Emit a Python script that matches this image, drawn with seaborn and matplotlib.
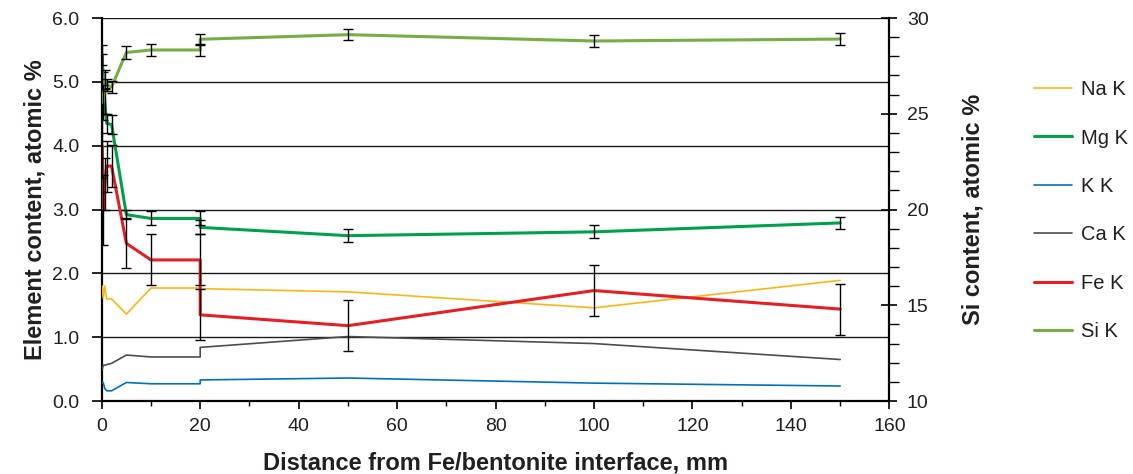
import numpy as np
import pandas as pd
import matplotlib
matplotlib.use("Agg")
import matplotlib.pyplot as plt
from matplotlib.ticker import MultipleLocator, FormatStrFormatter
import seaborn as sns

# ---- data ----
distance = [0.1, 0.3, 0.6, 1.0, 2.0, 5, 10, 20, 20, 50, 100, 150]
na_k = [1.80, 1.61, 1.80, 1.60, 1.60, 1.36, 1.77, 1.77, 1.76, 1.71, 1.46, 1.89]
mg_k = [5.42, 5.00, 4.70, 4.35, 4.33, 2.92, 2.86, 2.86, 2.72, 2.59, 2.65, 2.79]
k_k = [0.29, 0.29, 0.20, 0.16, 0.16, 0.29, 0.27, 0.27, 0.33, 0.36, 0.28, 0.235]
ca_k = [0.49, 0.56, 0.56, 0.57, 0.59, 0.72, 0.69, 0.69, 0.84, 1.01, 0.90, 0.65]
fe_k = [3.99, 2.99, 3.40, 3.68, 3.68, 2.47, 2.21, 2.21, 1.35, 1.18, 1.73, 1.44]
si_k = [27.2, 25.6, 26.8, 26.5, 26.4, 28.2, 28.33, 28.33, 28.89, 29.13, 28.8, 28.9]

mg_err = [0.15, 0.15, 0.20, 0.15, 0.15, 0.07, 0.11, 0.11, 0.11, 0.10, 0.10, 0.10]
fe_err = [0.50, 0.55, 0.40, 0.40, 0.33, 0.39, 0.40, 0.40, 0.40, 0.40, 0.40, 0.40]
si_err = [0.90, 0.90, 0.50, 0.30, 0.30, 0.33, 0.32, 0.32, 0.30, 0.30, 0.30, 0.31]

x_ticks = [0, 20, 40, 60, 80, 100, 120, 140, 160]
left_ticks = [0.0, 1.0, 2.0, 3.0, 4.0, 5.0, 6.0]
right_ticks = [10, 15, 20, 25, 30]

series_names = ["Na K", "Mg K", "K K", "Ca K", "Fe K", "Si K"]
colors = {"Na K": "#FDB515", "Mg K": "#00A14B", "K K": "#0072BC",
          "Ca K": "#4D4D4D", "Fe K": "#E61E25", "Si K": "#77AD45"}
widths = {"Na K": 1.2, "Mg K": 2.2, "K K": 1.2, "Ca K": 1.2, "Fe K": 2.2, "Si K": 2.2}

# ---- style ----
sns.set_theme(style="white")
plt.rcParams["font.family"] = ["Liberation Sans", "DejaVu Sans"]
text_col = "#231F20"
tick_fs = 14
label_fs = 17

fig = plt.figure(figsize=(11.33, 4.74), dpi=100)
ax = fig.add_axes([0.0898, 0.154, 0.6952, 0.808])
ax2 = ax.twinx()

left_data = {"Na K": na_k, "Mg K": mg_k, "K K": k_k, "Ca K": ca_k, "Fe K": fe_k}
for name in ["Na K", "Ca K", "K K", "Fe K", "Mg K"]:
    df = pd.DataFrame({"x": distance, "y": left_data[name]})
    sns.lineplot(data=df, x="x", y="y", ax=ax, sort=False, estimator=None,
                 color=colors[name], linewidth=widths[name], label=name, legend=False,
                 zorder=3)

ax.errorbar(distance, mg_k, yerr=mg_err, fmt="none", ecolor="black",
            elinewidth=1.0, capsize=3.5, capthick=1.0, zorder=4)
ax.errorbar(distance, fe_k, yerr=fe_err, fmt="none", ecolor="black",
            elinewidth=1.0, capsize=3.5, capthick=1.0, zorder=4)

df_si = pd.DataFrame({"x": distance, "y": si_k})
sns.lineplot(data=df_si, x="x", y="y", ax=ax2, sort=False, estimator=None,
             color=colors["Si K"], linewidth=widths["Si K"], label="Si K", legend=False)
ax2.errorbar(distance, si_k, yerr=si_err, fmt="none", ecolor="black",
             elinewidth=1.0, capsize=3.5, capthick=1.0)

# ---- axes ----
ax.set_xlim(0, 160)
ax.set_ylim(0, 6)
ax2.set_ylim(10, 30)
ax.set_xticks(x_ticks)
ax.xaxis.set_minor_locator(MultipleLocator(10))
ax.set_yticks(left_ticks)
ax.yaxis.set_major_formatter(FormatStrFormatter("%.1f"))
ax2.set_yticks(right_ticks)
ax2.yaxis.set_minor_locator(MultipleLocator(1))

for yv in left_ticks[1:]:
    ax.axhline(yv, color="#1a1a1a", linewidth=1.0, zorder=1)

for a in (ax, ax2):
    for s in a.spines.values():
        s.set_visible(False)
ax.spines["left"].set_visible(True)
ax.spines["bottom"].set_visible(True)
ax2.spines["right"].set_visible(True)
for s in (ax.spines["left"], ax.spines["bottom"], ax2.spines["right"]):
    s.set_color("black")
    s.set_linewidth(1.6)

ax.tick_params(axis="x", which="major", direction="out", length=6, width=1.2,
               color="black", labelsize=tick_fs, labelcolor=text_col, pad=6, bottom=True)
ax.tick_params(axis="x", which="minor", direction="out", length=3.6, width=1.0,
               color="black", bottom=True)
ax.tick_params(axis="y", which="major", direction="out", length=7, width=1.2,
               color="black", labelsize=tick_fs, labelcolor=text_col, pad=9, left=True)
ax2.tick_params(axis="y", which="major", direction="inout", length=11, width=1.2,
                color="black", labelsize=tick_fs, labelcolor=text_col, pad=7, right=True)
ax2.tick_params(axis="y", which="minor", direction="out", length=7, width=1.0,
                color="black", right=True)

ax.set_xlabel("Distance from Fe/bentonite interface, mm", fontsize=label_fs,
              fontweight="bold", color=text_col, labelpad=12)
ax.set_ylabel("Element content, atomic %", fontsize=label_fs, fontweight="bold",
              color=text_col, labelpad=4)
ax2.set_ylabel("Si content, atomic %", fontsize=label_fs, fontweight="bold",
               color=text_col, labelpad=24)

# ---- legend ----
h1, l1 = ax.get_legend_handles_labels()
h2, l2 = ax2.get_legend_handles_labels()
hd = dict(zip(l1 + l2, h1 + h2))
fig.legend([hd[n] for n in series_names], series_names, loc="upper left",
           bbox_to_anchor=(0.9126, 0.831), frameon=False, fontsize=14.5,
           labelspacing=1.46, handlelength=1.9, handletextpad=0.43,
           borderpad=0, borderaxespad=0, labelcolor=text_col)

fig.savefig("out.png", dpi=100, facecolor="white")
